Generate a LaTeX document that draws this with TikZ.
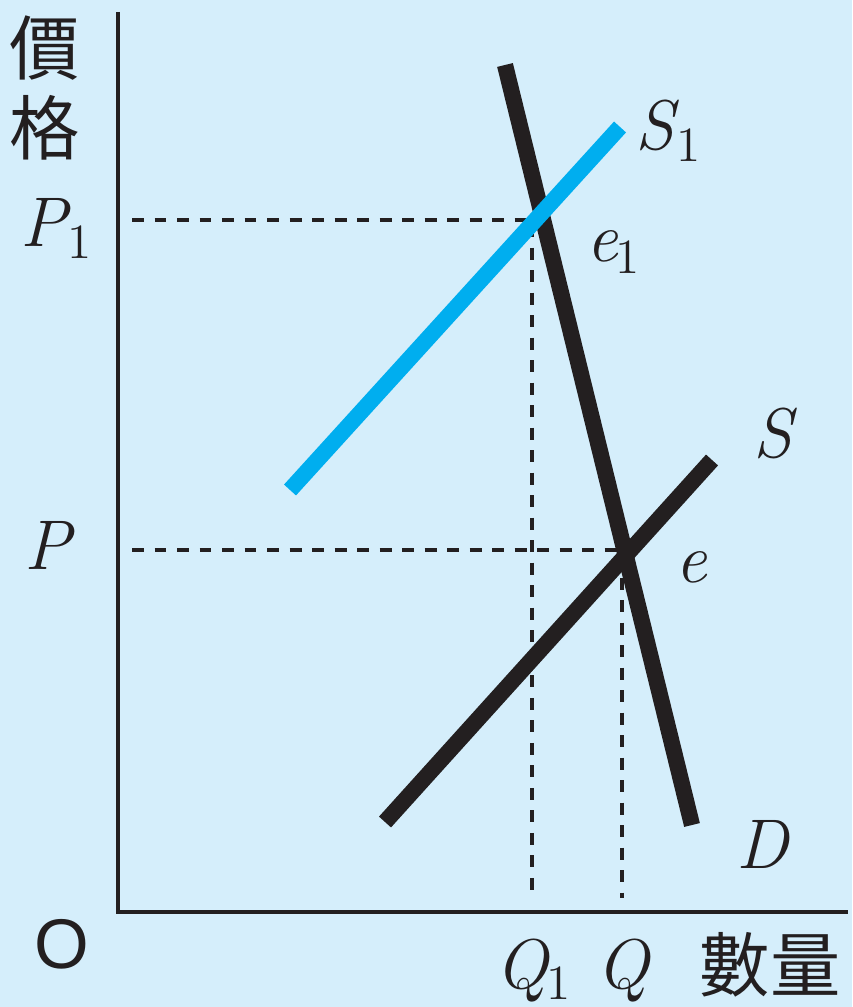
\documentclass[tikz,border=0pt]{standalone}
\usepackage{fontspec}
\newfontfamily\cjk{Noto Sans CJK TC}
\newfontfamily\plainsans{Liberation Sans}
\usetikzlibrary{positioning}
\definecolor{paneblue}{RGB}{213,238,251}
\definecolor{supplyblue}{RGB}{0,174,239}
\definecolor{inkblack}{RGB}{35,31,32}
\newcommand\varsub[2]{\textit{#1}\kern-0.04em\raisebox{-0.16em}{\fontsize{14}{14}\selectfont #2}}

\begin{document}
\begin{tikzpicture}[
  x=0.01cm, y=-0.01cm,
  every node/.style={font=\fontsize{20}{22.7}\selectfont, inner sep=0pt, text=inkblack},
  axisline/.style={draw=inkblack, line width=1.4pt},
  curve/.style={line width=4.6pt, line cap=butt},
  guide/.style={draw=inkblack, line width=1.4pt, dash pattern=on 3.4pt off 3pt}
]
  % panel
  \fill[paneblue] (0,0) rectangle (852,1007);
  \useasboundingbox (0,0) rectangle (852,1007);

  % points
  \coordinate (ytop) at (118,12);
  \coordinate (origin) at (118,912);
  \coordinate (xend) at (848,912);
  \coordinate (dtop) at (505,65);
  \coordinate (dbot) at (692,825);
  \coordinate (s1a) at (290,490);
  \coordinate (s1b) at (620,127);
  \coordinate (sa) at (385,822);
  \coordinate (sb) at (712,460);
  \coordinate (e1pt) at (532,220);
  \coordinate (ept) at (622,550);
  \coordinate (p1pt) at (132,220);
  \coordinate (ppt) at (132,550);
  \coordinate (q1pt) at (532,898);
  \coordinate (qpt) at (622,898);

  % guides
  \draw[guide] (p1pt) -- (e1pt) -- (q1pt);
  \draw[guide] (ppt) -- (ept) -- (qpt);

  % axes
  \draw[axisline] (ytop) -- (origin) -- (xend);

  % demand and supply
  \draw[curve, draw=inkblack] (dtop) -- (dbot);
  \draw[curve, draw=supplyblue] (s1a) -- (s1b);
  \draw[curve, draw=inkblack] (sa) -- (sb);

  % labels
  \node[align=center] (price) at (45,88) {\cjk 價\\\cjk 格};
  \node (qty) at (770,965) {\cjk 數量};
  \node[anchor=base] (olbl) at (62,968) {\plainsans O};
  \node[anchor=base] (p1lbl) at (56,247) {\varsub{P}{1}};
  \node[anchor=base] (plbl) at (50,570) {\textit{P}};
  \node[anchor=base] (q1lbl) at (533,988) {\varsub{Q}{1}};
  \node[anchor=base] (qlbl) at (624,988) {\textit{Q}};
  \node[anchor=base] (s1lbl) at (668,150) {\varsub{S}{1}};
  \node[anchor=base] (e1lbl) at (613,262) {\varsub{e}{1}};
  \node[anchor=base] (slbl) at (775,458) {\textit{S}};
  \node[anchor=base] (elbl) at (692,582) {\textit{e}};
  \node[anchor=base] (dlbl) at (763,868) {\textit{D}};
\end{tikzpicture}
\end{document}
